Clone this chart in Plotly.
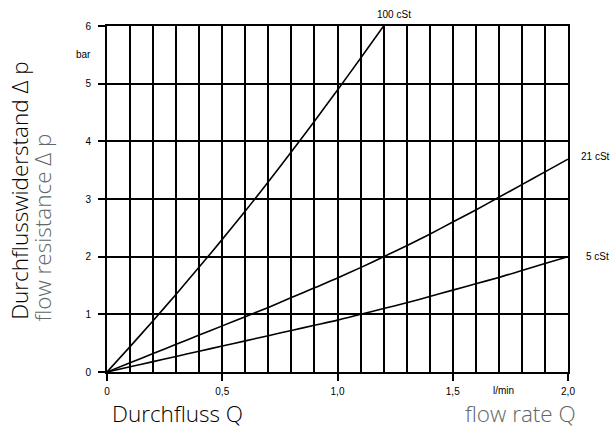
import plotly.graph_objects as go

# Data
q_100 = [0, 0.1, 0.2, 0.3, 0.4, 0.5, 0.6, 0.7, 0.8, 0.9, 1.0, 1.1, 1.2]
dp_100 = [0, 0.44, 0.89, 1.35, 1.82, 2.30, 2.79, 3.30, 3.82, 4.35, 4.89, 5.44, 6.0]

q_21 = [0, 0.1, 0.2, 0.3, 0.4, 0.5, 0.6, 0.7, 0.8, 0.9, 1.0, 1.1, 1.2, 1.3, 1.4, 1.5, 1.6, 1.7, 1.8, 1.9, 2.0]
dp_21 = [0, 0.16, 0.32, 0.48, 0.64, 0.80, 0.96, 1.12, 1.29, 1.46, 1.63, 1.81, 2.0, 2.19, 2.39, 2.60, 2.81, 3.03, 3.25, 3.47, 3.69]

q_5 = [0, 0.1, 0.2, 0.3, 0.4, 0.5, 0.6, 0.7, 0.8, 0.9, 1.0, 1.1, 1.2, 1.3, 1.4, 1.5, 1.6, 1.7, 1.8, 1.9, 2.0]
dp_5 = [0, 0.09, 0.18, 0.27, 0.36, 0.45, 0.54, 0.63, 0.72, 0.81, 0.90, 1.00, 1.10, 1.20, 1.31, 1.42, 1.53, 1.64, 1.76, 1.88, 2.0]

series_names = ["100 cSt", "21 cSt", "5 cSt"]

x_tickvals = [0, 0.5, 1.0, 1.5, 2.0]
x_ticktext = ["0", "0,5", "1,0", "1,5", "2,0"]
y_tickvals = [0, 1, 2, 3, 4, 5, 6]
y_ticktext = ["0", "1", "2", "3", "4", "5", "6"]

GRAY = "#5e6866"
TICKFONT = dict(family="Liberation Sans, Arial, sans-serif", size=10, color="black")
TITLEFONT = "Open Sans, Noto Sans, sans-serif"
TSIZE = 22.5
LW = 2

fig = go.Figure()
for q, dp in [(q_100, dp_100), (q_21, dp_21), (q_5, dp_5)]:
    fig.add_trace(go.Scatter(x=q, y=dp, mode="lines",
                             line=dict(color="black", width=1.6, shape="spline", smoothing=0.8),
                             showlegend=False, hoverinfo="skip"))

fig.update_layout(
    width=612, height=430,
    margin=dict(l=107, r=44, t=26, b=58),
    paper_bgcolor="white", plot_bgcolor="white",
    xaxis=dict(range=[0, 2], tickvals=x_tickvals, ticktext=x_ticktext, ticks="outside", ticklen=7,
               tickwidth=LW, tickcolor="black", showgrid=True, gridcolor="black", gridwidth=LW,
               minor=dict(dtick=0.1, showgrid=True, gridcolor="black", gridwidth=LW, ticks=""),
               showline=True, mirror=True, linecolor="black", linewidth=LW, zeroline=False,
               tickfont=TICKFONT, ticklabelstandoff=2, fixedrange=True),
    yaxis=dict(range=[0, 6], tickvals=y_tickvals, ticktext=y_ticktext, ticks="outside", ticklen=7,
               tickwidth=LW, tickcolor="black", showgrid=True, gridcolor="black", gridwidth=LW,
               showline=True, mirror=True, linecolor="black", linewidth=LW, zeroline=False,
               tickfont=TICKFONT, ticklabelstandoff=5, fixedrange=True),
)

ann = []
# curve labels
ann.append(dict(x=q_100[-1], y=dp_100[-1], xref="x", yref="y", text=series_names[0], showarrow=False,
                xanchor="center", yanchor="middle", xshift=10, yshift=12, font=TICKFONT))
ann.append(dict(x=q_21[-1], y=dp_21[-1], xref="x", yref="y", text=series_names[1], showarrow=False,
                xanchor="left", yanchor="middle", xshift=11, yshift=3, font=TICKFONT))
ann.append(dict(x=q_5[-1], y=dp_5[-1], xref="x", yref="y", text=series_names[2], showarrow=False,
                xanchor="left", yanchor="middle", xshift=16, yshift=0, font=TICKFONT))
# units
ann.append(dict(x=0, y=5.5, xref="x", yref="y", text="bar", showarrow=False,
                xanchor="right", yanchor="middle", xshift=-14, yshift=0, font=TICKFONT))
ann.append(dict(x=1.718, y=0, xref="x", yref="y", text="l/min", showarrow=False,
                xanchor="center", yanchor="middle", yshift=-18, font=TICKFONT))
# axis titles
ann.append(dict(x=0.0065, y=-0.121, xref="paper", yref="paper", text="Durchfluss Q", showarrow=False,
                xanchor="left", yanchor="middle", font=dict(family=TITLEFONT, size=TSIZE, color="black", weight=300)))
ann.append(dict(x=1.0217, y=-0.121, xref="paper", yref="paper", text="flow rate Q", showarrow=False,
                xanchor="right", yanchor="middle", font=dict(family=TITLEFONT, size=TSIZE, color=GRAY, weight=300)))
ann.append(dict(x=-0.1887, y=0.145, xref="paper", yref="paper", text="Durchflusswiderstand Δ p", showarrow=False,
                textangle=-90, xanchor="center", yanchor="bottom",
                font=dict(family=TITLEFONT, size=TSIZE, color="black", weight=300)))
ann.append(dict(x=-0.1388, y=0.140, xref="paper", yref="paper", text="flow resistance Δ p", showarrow=False,
                textangle=-90, xanchor="center", yanchor="bottom",
                font=dict(family=TITLEFONT, size=TSIZE, color=GRAY, weight=300)))
fig.update_layout(annotations=ann)

fig.write_html(
    "out.html",
    config={"displayModeBar": False},
    post_script="document.body.style.margin='0';document.documentElement.style.overflow='hidden';document.body.style.overflow='hidden';",
)
